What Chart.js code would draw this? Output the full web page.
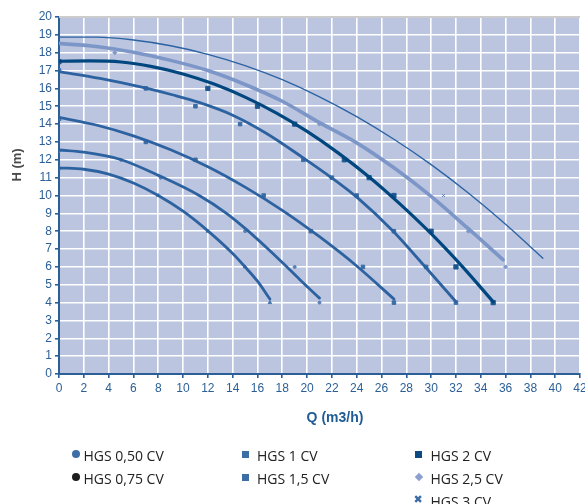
<!DOCTYPE html>
<html>
<head>
<meta charset="utf-8">
<script src="https://cdn.jsdelivr.net/npm/chart.js@4.4.1/dist/chart.umd.min.js"></script>
<style>
  body { margin: 0; background: #fff; }
  #wrap { position: relative; width: 585px; height: 504px; overflow: hidden; }
  #grafico { position: absolute; left: 0; top: 0; }
  .ytitulo { position: absolute; left: -13px; top: 157px; width: 60px; height: 16px; line-height: 16px;
    text-align: center; transform: rotate(-90deg); font: bold 13px "Liberation Sans", Arial, sans-serif; color: #4a4a4a; }
  .xtitulo { position: absolute; left: 295px; top: 409px; width: 80px; height: 16px; line-height: 16px;
    text-align: center; font: bold 14px "Liberation Sans", Arial, sans-serif; color: #1f5b94; }
  .item { position: absolute; height: 16px; line-height: 16px; font: 14px "Open Sans", sans-serif; color: #222; white-space: nowrap; }
  .marca { position: absolute; }
</style>
</head>
<body>
<div id="wrap">
  <canvas id="grafico" width="585" height="504"></canvas>
  <div class="ytitulo">H (m)</div>
  <div class="xtitulo">Q (m3/h)</div>
  <div id="leyenda"></div>
</div>
<script>
// curvas (Q en m3/h, H en m)
const q050 = [0, 2, 4, 6, 8, 10, 12, 14, 15, 16, 17];
const h050 = [11.55, 11.47, 11.2, 10.7, 10.0, 9.12, 8.02, 6.75, 6.0, 5.2, 4.2];
const q075 = [0, 2, 4.9, 8.1, 11.3, 13.5, 15.1, 16.7, 18, 19.4, 21];
const h075 = [12.55, 12.43, 12.03, 11.1, 10.0, 9.0, 8.1, 7.1, 6.25, 5.3, 4.25];
const q100 = [0, 3, 6, 9, 12, 15, 18, 21, 24, 27];
const h100 = [14.38, 13.95, 13.34, 12.56, 11.61, 10.47, 9.17, 7.69, 6.05, 4.2];
const q150 = [0, 3.3, 6.85, 9.2, 11.35, 14, 16.7, 19.6, 22, 24.1, 26.9, 29.5, 32];
const h150 = [16.94, 16.56, 16.04, 15.63, 15.2, 14.5, 13.49, 12.15, 10.98, 9.85, 8.02, 6.02, 4.05];
const q200 = [0, 2.5, 5, 7.5, 10, 12.5, 15, 17.5, 20, 22.5, 25, 27.5, 30, 32.5, 35];
const h200 = [17.52, 17.54, 17.48, 17.22, 16.81, 16.24, 15.51, 14.63, 13.59, 12.39, 11.04, 9.52, 7.86, 6.03, 4.05];
const q250 = [0, 3, 6, 9, 12, 15, 18, 21, 24, 27, 30, 33, 35.8];
const h250 = [18.52, 18.35, 18.03, 17.57, 17.0, 16.22, 15.28, 14.08, 12.95, 11.55, 9.95, 8.14, 6.4];
const q300 = [0, 3, 6, 9, 12, 15, 18, 21, 24, 27, 30, 33, 36, 39];
const h300 = [18.87, 18.87, 18.71, 18.39, 17.91, 17.28, 16.49, 15.53, 14.42, 13.15, 11.73, 10.14, 8.39, 6.49];

// puntos medidos (marcadores)
const mq050 = [0, 8, 12, 15, 17];
const mh050 = [11.5, 10, 8, 6, 4];
const mq075 = [0, 5, 8.2, 15, 19, 21];
const mh075 = [12.5, 12, 11, 8, 6, 4];
const mq100 = [0, 7, 11, 16.5, 20.3, 24.5, 27];
const mh100 = [14.3, 13, 12, 10, 8, 6, 4];
const mq150 = [0, 7, 11, 14.6, 19.7, 22, 24, 27, 29.6, 32];
const mh150 = [17, 16, 15, 14, 12, 11, 10, 8, 6, 4];
const mq200 = [0, 12, 16, 19, 23, 25, 27, 30, 32, 35];
const mh200 = [17.5, 16, 15, 14, 12, 11, 10, 8, 6, 4];
const mq250 = [4.5, 21, 33, 36];
const mh250 = [18, 14, 8, 6];
const mq300 = [31];
const mh300 = [10];

const nombres = ["HGS 0,50 CV", "HGS 0,75 CV", "HGS 1 CV", "HGS 1,5 CV", "HGS 2 CV", "HGS 2,5 CV", "HGS 3 CV"];

const azulEje = "#2b5f97";

function puntos(q, h) {
  return q.map((x, i) => ({ x: x, y: h[i] }));
}

function curva(q, h, color, ancho) {
  return {
    data: puntos(q, h),
    showLine: true,
    borderColor: color,
    borderWidth: ancho,
    pointRadius: 0,
    cubicInterpolationMode: "monotone",
    borderCapStyle: "round"
  };
}

function marcas(q, h, color, estilo, radio) {
  return {
    data: puntos(q, h),
    showLine: false,
    pointStyle: estilo,
    pointRadius: radio,
    backgroundColor: color,
    borderColor: color,
    borderWidth: 1
  };
}

// fondo del area y borde superior gris
const fondoArea = {
  id: "fondoArea",
  beforeDraw(chart) {
    const { ctx, chartArea } = chart;
    ctx.save();
    ctx.fillStyle = "#bbc5df";
    ctx.fillRect(chartArea.left, chartArea.top, chartArea.right - chartArea.left, chartArea.bottom - chartArea.top);
    ctx.restore();
  },
  beforeDatasetsDraw(chart) {
    const { ctx, chartArea } = chart;
    ctx.save();
    ctx.strokeStyle = "#cccccc";
    ctx.lineWidth = 2;
    ctx.beginPath();
    ctx.moveTo(chartArea.left, chartArea.top);
    ctx.lineTo(chartArea.right, chartArea.top);
    ctx.stroke();
    ctx.restore();
  }
};

const ctx = document.getElementById("grafico").getContext("2d");

new Chart(ctx, {
  type: "scatter",
  data: {
    datasets: [
      curva(q050, h050, "#2d62a1", 2.8),
      curva(q075, h075, "#2d62a1", 2.8),
      curva(q100, h100, "#2d62a1", 2.8),
      curva(q150, h150, "#2d62a1", 2.8),
      curva(q250, h250, "#7d96c8", 3.6),
      curva(q300, h300, "#2c63a3", 1.4),
      curva(q200, h200, "#00477f", 3.2),
      marcas(mq050, mh050, "#4a76ad", "triangle", 2),
      marcas(mq075, mh075, "#5a80b5", "circle", 1.5),
      marcas(mq100, mh100, "#3c6da5", "rect", 2.5),
      marcas(mq150, mh150, "#3c6da5", "rect", 2.5),
      marcas(mq200, mh200, "#1d5890", "rect", 3),
      marcas(mq250, mh250, "#7f98c9", "rectRot", 2),
      marcas(mq300, mh300, "#5a80b5", "crossRot", 2)
    ]
  },
  options: {
    responsive: false,
    animation: false,
    layout: { padding: { left: 0, right: 4, top: 17, bottom: 100 } },
    plugins: {
      legend: { display: false },
      tooltip: { enabled: false }
    },
    scales: {
      x: {
        type: "linear",
        min: 0,
        max: 42,
        afterFit(scale) {
          scale.height = 30;
          scale.paddingLeft = 0;
          scale.paddingRight = 0;
        },
        ticks: {
          stepSize: 2,
          padding: 3,
          color: azulEje,
          font: { family: "Liberation Sans", size: 12 }
        },
        grid: { color: "#ffffff", lineWidth: 1.6, tickColor: azulEje, tickLength: 4 },
        border: { color: azulEje, width: 2 }
      },
      y: {
        type: "linear",
        min: 0,
        max: 20,
        afterFit(scale) {
          scale.width = 59;
          scale.paddingTop = 0;
          scale.paddingBottom = 0;
        },
        ticks: {
          stepSize: 1,
          padding: 3,
          color: azulEje,
          font: { family: "Liberation Sans", size: 12 }
        },
        grid: { color: "#ffffff", lineWidth: 1.6, tickColor: azulEje, tickLength: 4 },
        border: { color: azulEje, width: 2 }
      }
    }
  },
  plugins: [fondoArea]
});

// leyenda en tres columnas
const leyendaCol = [0, 0, 1, 1, 2, 2, 2];
const leyendaFila = [0, 1, 0, 1, 0, 1, 2];
const leyendaMarca = ["circulo", "circulo", "cuadro", "cuadro", "cuadro", "rombo", "cruz"];
const leyendaColor = ["#3d6ea6", "#1e1e1e", "#3c6da5", "#3c6da5", "#0d4a80", "#8ba0ce", "#3c6da5"];
const colMarcaX = [76, 245, 418.5];
const colTextoX = [83.5, 257, 430.5];
const filaY = [454, 477, 500];

const leyenda = document.getElementById("leyenda");
nombres.forEach((nombre, i) => {
  const cx = colMarcaX[leyendaCol[i]];
  const cy = filaY[leyendaFila[i]];
  const m = document.createElement("div");
  m.className = "marca";
  const tipo = leyendaMarca[i];
  if (tipo === "circulo") {
    m.style.cssText = `left:${cx - 4}px;top:${cy - 4}px;width:8px;height:8px;border-radius:50%;background:${leyendaColor[i]}`;
  } else if (tipo === "cuadro") {
    m.style.cssText = `left:${cx - 3.5}px;top:${cy - 3.5}px;width:7px;height:7px;background:${leyendaColor[i]}`;
  } else if (tipo === "rombo") {
    m.style.cssText = `left:${cx - 3}px;top:${cy - 3}px;width:6px;height:6px;background:${leyendaColor[i]};transform:rotate(45deg)`;
  } else {
    m.style.cssText = `left:${cx - 5}px;top:${cy - 7}px;width:10px;height:14px;line-height:14px;font:bold 11px 'DejaVu Sans';color:${leyendaColor[i]}`;
    m.textContent = "\u2716";
  }
  leyenda.appendChild(m);
  const t = document.createElement("div");
  t.className = "item";
  t.style.left = colTextoX[leyendaCol[i]] + "px";
  t.style.top = (cy - 8) + "px";
  t.textContent = nombre;
  leyenda.appendChild(t);
});
</script>
</body>
</html>
